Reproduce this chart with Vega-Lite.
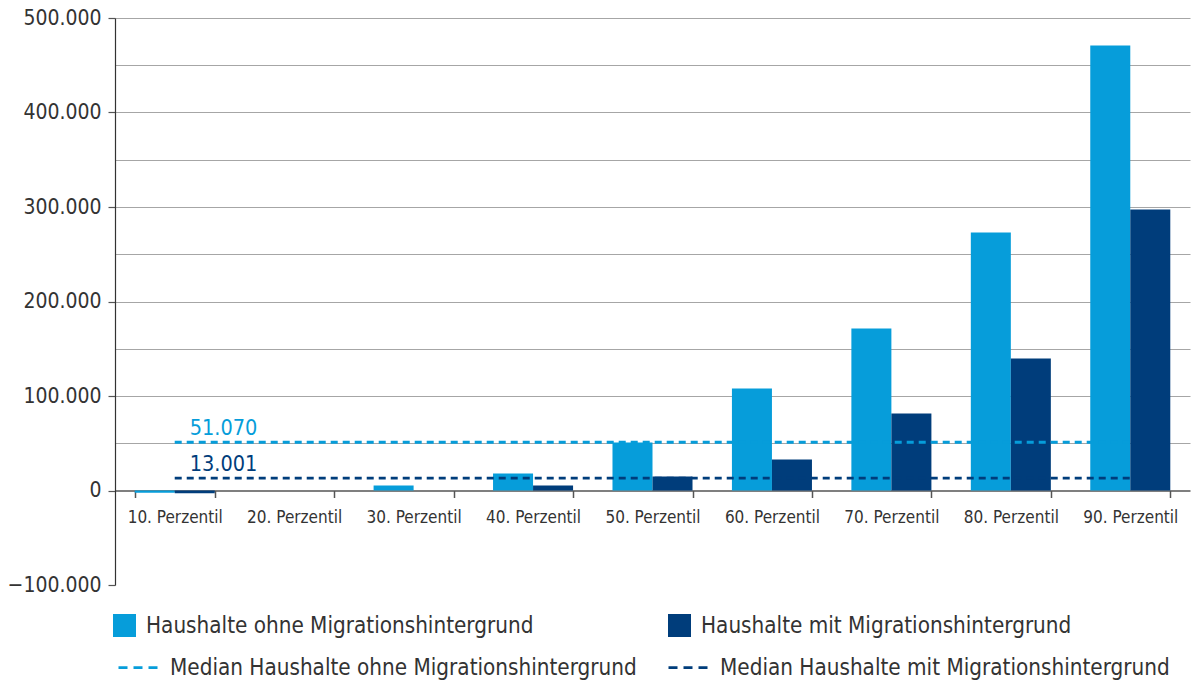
{
  "$schema": "https://vega.github.io/schema/vega-lite/v6.json",
  "width": 1075,
  "height": 567,
  "autosize": "none",
  "padding": {"left": 115, "top": 18, "right": 2, "bottom": 95},
  "background": "white",
  "config": {
    "font": "DejaVu Sans Condensed",
    "view": {"stroke": null},
    "locale": {"number": {"decimal": ",", "thousands": ".", "grouping": [3], "currency": ["", " €"]}}
  },
  "datasets": {
    "bars": [
      {"perzentil": "10. Perzentil", "gruppe": "Haushalte ohne Migrationshintergrund", "wert": -2500},
      {"perzentil": "10. Perzentil", "gruppe": "Haushalte mit Migrationshintergrund", "wert": -2800},
      {"perzentil": "20. Perzentil", "gruppe": "Haushalte ohne Migrationshintergrund", "wert": 0},
      {"perzentil": "20. Perzentil", "gruppe": "Haushalte mit Migrationshintergrund", "wert": 0},
      {"perzentil": "30. Perzentil", "gruppe": "Haushalte ohne Migrationshintergrund", "wert": 5300},
      {"perzentil": "30. Perzentil", "gruppe": "Haushalte mit Migrationshintergrund", "wert": 0},
      {"perzentil": "40. Perzentil", "gruppe": "Haushalte ohne Migrationshintergrund", "wert": 18000},
      {"perzentil": "40. Perzentil", "gruppe": "Haushalte mit Migrationshintergrund", "wert": 5300},
      {"perzentil": "50. Perzentil", "gruppe": "Haushalte ohne Migrationshintergrund", "wert": 50800},
      {"perzentil": "50. Perzentil", "gruppe": "Haushalte mit Migrationshintergrund", "wert": 14800},
      {"perzentil": "60. Perzentil", "gruppe": "Haushalte ohne Migrationshintergrund", "wert": 108000},
      {"perzentil": "60. Perzentil", "gruppe": "Haushalte mit Migrationshintergrund", "wert": 32800},
      {"perzentil": "70. Perzentil", "gruppe": "Haushalte ohne Migrationshintergrund", "wert": 171400},
      {"perzentil": "70. Perzentil", "gruppe": "Haushalte mit Migrationshintergrund", "wert": 81500},
      {"perzentil": "80. Perzentil", "gruppe": "Haushalte ohne Migrationshintergrund", "wert": 273000},
      {"perzentil": "80. Perzentil", "gruppe": "Haushalte mit Migrationshintergrund", "wert": 139700},
      {"perzentil": "90. Perzentil", "gruppe": "Haushalte ohne Migrationshintergrund", "wert": 470900},
      {"perzentil": "90. Perzentil", "gruppe": "Haushalte mit Migrationshintergrund", "wert": 297400}
    ],
    "medians": [
      {"serie": "Median Haushalte ohne Migrationshintergrund", "wert": 51070, "von": "10. Perzentil", "bis": "90. Perzentil"},
      {"serie": "Median Haushalte mit Migrationshintergrund", "wert": 13001, "von": "10. Perzentil", "bis": "90. Perzentil"}
    ]
  },
  "layer": [
    {
      "data": {"name": "bars"},
      "mark": {"type": "bar"},
      "encoding": {
        "x": {
          "field": "perzentil", "type": "nominal", "sort": null,
          "scale": {"paddingInner": 0.33, "paddingOuter": 0.165},
          "axis": {
            "title": null, "orient": "bottom", "offset": -94.5, "labelAngle": 0,
            "domainColor": "#555555", "domainWidth": 1.5,
            "tickBand": "extent", "tickSize": 7, "tickColor": "#555555", "tickWidth": 1.5,
            "labelFont": "DejaVu Sans Condensed", "labelFontSize": 17, "labelColor": "#333333",
            "labelPadding": 12, "grid": false
          }
        },
        "xOffset": {"field": "gruppe", "type": "nominal", "sort": null, "scale": {"paddingInner": 0, "paddingOuter": 0}},
        "y": {
          "field": "wert", "type": "quantitative",
          "scale": {"domain": [-100000, 500000], "nice": false, "zero": false},
          "axis": {
            "title": null, "format": ",d",
            "values": [-100000, -50000, 0, 50000, 100000, 150000, 200000, 250000, 300000, 350000, 400000, 450000, 500000],
            "labelExpr": "datum.value % 100000 == 0 ? datum.label : ''",
            "labelFont": "DejaVu Sans Condensed", "labelFontSize": 21, "labelColor": "#333333", "labelPadding": 7,
            "domainColor": "#333333", "domainWidth": 1.2,
            "tickSize": 7, "tickColor": "#555555", "tickWidth": 1.2,
            "tickOpacity": {"condition": {"test": "datum.value % 100000 != 0", "value": 0}, "value": 1},
            "grid": true, "gridColor": "#a6a6a6", "gridWidth": 1.2,
            "gridOpacity": {"condition": {"test": "datum.value <= 0", "value": 0}, "value": 1}
          }
        },
        "fill": {
          "field": "gruppe", "type": "nominal", "sort": null,
          "scale": {"domain": ["Haushalte ohne Migrationshintergrund", "Haushalte mit Migrationshintergrund"], "range": ["#069dda", "#003d7b"]},
          "legend": {
            "title": null, "orient": "none", "legendX": -2, "legendY": 596,
            "direction": "horizontal", "columns": 2, "columnPadding": 134,
            "symbolType": "square", "symbolSize": 529, "symbolStrokeWidth": 0,
            "labelFont": "DejaVu Sans Condensed", "labelFontSize": 22.3, "labelColor": "#333333",
            "labelOffset": 10, "labelLimit": 600
          }
        }
      }
    },
    {
      "data": {"name": "medians"},
      "mark": {"type": "rule", "strokeWidth": 2.8, "strokeDash": [7, 5]},
      "encoding": {
        "x": {"field": "von", "type": "nominal", "sort": null},
        "x2": {"field": "bis"},
        "y": {"field": "wert", "type": "quantitative"},
        "stroke": {
          "field": "serie", "type": "nominal", "sort": null,
          "scale": {"domain": ["Median Haushalte ohne Migrationshintergrund", "Median Haushalte mit Migrationshintergrund"], "range": ["#069dda", "#003d7b"]},
          "legend": {
            "title": null, "orient": "none", "legendX": 2, "legendY": 628,
            "direction": "horizontal", "columns": 2, "columnPadding": 25,
            "symbolType": "stroke", "symbolSize": 1600, "symbolStrokeWidth": 2.8, "symbolDash": [9, 6],
            "labelFont": "DejaVu Sans Condensed", "labelFontSize": 22.3, "labelColor": "#333333",
            "labelOffset": 10, "labelLimit": 600
          }
        }
      }
    },
    {
      "data": {"name": "medians"},
      "mark": {"type": "text", "align": "left", "baseline": "alphabetic", "dx": 15, "dy": -7, "fontSize": 21.5, "font": "DejaVu Sans Condensed"},
      "encoding": {
        "x": {"field": "von", "type": "nominal", "sort": null},
        "y": {"field": "wert", "type": "quantitative"},
        "text": {"field": "wert", "type": "quantitative", "format": ",d"},
        "color": {"condition": {"test": "datum.serie == 'Median Haushalte ohne Migrationshintergrund'", "value": "#069dda"}, "value": "#003d7b"}
      }
    }
  ]
}
